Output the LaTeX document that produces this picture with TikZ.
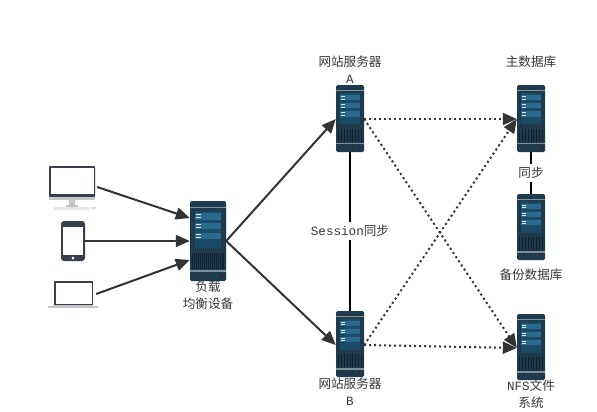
\documentclass[tikz,border=0pt]{standalone}
\usepackage{fontspec}
\setmainfont{Liberation Mono}
\newfontfamily\cjk{Noto Sans CJK SC}
\usetikzlibrary{arrows.meta}
\definecolor{srvbody}{HTML}{1E3A4C}
\definecolor{srvpanel}{HTML}{1A4A66}
\definecolor{srvband}{HTML}{2A6A8E}
\definecolor{srvline}{HTML}{7F929C}
\definecolor{srvgrill}{HTML}{0E2230}
\definecolor{wire}{HTML}{333333}
\definecolor{scr}{HTML}{3A3F4C}
\definecolor{silver}{HTML}{C4C6C8}
\tikzset{
  srv/.style={fill=srvbody,draw=none,rounded corners=1.5pt,inner sep=0pt},
  arrowline/.style={draw=wire,line width=2pt,-{Triangle[length=14pt,width=12pt]}},
  dotline/.style={draw=wire,line width=2pt,dash pattern=on 2pt off 3pt,-{Triangle[length=14pt,width=12pt,fill=wire]}},
  plainline/.style={draw=black,line width=1.7pt},
  lab/.style={font=\fontsize{12.6}{17}\selectfont,align=center,text=black!78,inner sep=0pt},
  dev/.style={draw=none,inner sep=0pt}
}
\newcommand{\serverbox}[5]{% name, left, top, width, height
  \node[srv,minimum width=#4pt,minimum height=#5pt] (#1) at ({#2+#4/2},{#3+#5/2}) {};
  \begin{scope}[shift={(#2,#3)},xscale=#4/36,yscale=#5/80]
    \fill[srvline] (0,6.3) rectangle (36,7.3);
    \fill[srvpanel] (5,10) rectangle (31,47);
    \foreach \yy in {12,21.5,31.5}{
      \fill[srvband] (5,\yy) rectangle (31,\yy+6.5);
      \fill[white!85!srvband] (6,\yy+1.2) rectangle (11,\yy+2.2);
      \fill[white!85!srvband] (6,\yy+4.2) rectangle (11,\yy+5.2);
    }
    \fill[srvgrill] (2,52) rectangle (34,68);
    \foreach \xx in {3.5,5.5,...,33}{\draw[srvbody,line width=.4pt] (\xx,52) -- (\xx,68);}
    \fill[srvline] (0,69) rectangle (36,71);
    \fill[green!50!black] (26,74.5) circle (1pt);
    \fill[red!60!black] (31.5,74.5) circle (1pt);
  \end{scope}
}
\begin{document}
\begin{tikzpicture}[x=1pt,y=-1pt]
\useasboundingbox[fill=white] (0,0) rectangle (597,412);
% desktop
\node[dev,minimum width=46pt,minimum height=45pt] (desk) at (72,188) {};
\fill[scr,rounded corners=.8pt] (49,166) rectangle (95,197);
\fill[silver] (49,197) rectangle (95,199.5);
\fill[white] (50.5,168) rectangle (93.5,194);
\fill[silver] (69,199.5) rectangle (75,205);
\fill[silver] (66,205) rectangle (78,206.5);
\fill[black!10] (54,206.5) rectangle (89,210);
\fill[black!12] (91,207) rectangle (96,208.5);
% phone
\node[dev,minimum width=24pt,minimum height=40pt] (phone) at (73,241) {};
\fill[scr,rounded corners=3pt] (61,221) rectangle (85,261);
\fill[white] (63,227) rectangle (83,254.5);
\fill[white] (73,258) circle (1.5pt);
% laptop
\node[dev,minimum width=48pt,minimum height=26pt] (lap) at (72,294) {};
\fill[scr] (54,281) rectangle (93,305);
\fill[white] (55.5,282.5) rectangle (91.5,304);
\fill[silver] (48,306) rectangle (98,308);
\fill[silver] (53,305) rectangle (93,306);
% servers
\serverbox{lb}{190}{201}{36}{80}
\serverbox{weba}{336}{85}{28}{67}
\serverbox{webb}{336}{311}{28}{66}
\serverbox{maindb}{517}{85}{28}{67}
\serverbox{backup}{517}{194}{28}{66}
\serverbox{nfs}{517}{314}{28}{66}
% coordinates on nodes
\coordinate (lbin1) at (lb.west |- 0,218);
\coordinate (lbin2) at (lb.west);
\coordinate (lbin3) at (lb.west |- 0,260);
\coordinate (aw) at (weba.west |- 0,119);
\coordinate (ae) at (weba.east |- 0,119);
\coordinate (bw) at (webb.west |- 0,345);
\coordinate (be) at (webb.east |- 0,345);
\coordinate (mw) at (maindb.west |- 0,119);
\coordinate (nw) at (nfs.west |- 0,348);
% connectors
\draw[arrowline] (desk.east |- 0,187) ++(2,0) -- (lbin1);
\draw[arrowline] (phone.east) -- (lbin2);
\draw[arrowline] (lap.east |- 0,294) -- (lbin3);
\draw[arrowline] (lb.east) -- (aw);
\draw[arrowline] (lb.east) -- (bw);
\draw[dotline] (ae) -- (mw);
\draw[dotline] (ae) -- (nw);
\draw[dotline] (be) -- (mw);
\draw[dotline] (be) -- (nw);
\draw[plainline] (weba.south -| 350,152) -- (webb.north -| 350,311);
\draw[plainline] (maindb) -- (backup);
\node[lab,fill=white,inner xsep=2pt,inner ysep=3pt] (sess) at (350,231) {Session{\cjk 同步}};
\node[lab,fill=white,inner xsep=1pt,inner ysep=3pt] (sync) at (531,173) {\cjk 同步};
% labels
\node[lab] (la) at (350,69.5) {{\cjk 网站服务器}\\A};
\node[lab] (lbb) at (350,391.5) {{\cjk 网站服务器}\\B};
\node[lab] (lmain) at (531,62) {\cjk 主数据库};
\node[lab] (lback) at (531,275) {\cjk 备份数据库};
\node[lab] (lnfs) at (531,394) {NFS{\cjk 文件}\\{\cjk 系统}};
\node[lab] (llb) at (208,295) {{\cjk 负载}\\{\cjk 均衡设备}};
\end{tikzpicture}
\end{document}
